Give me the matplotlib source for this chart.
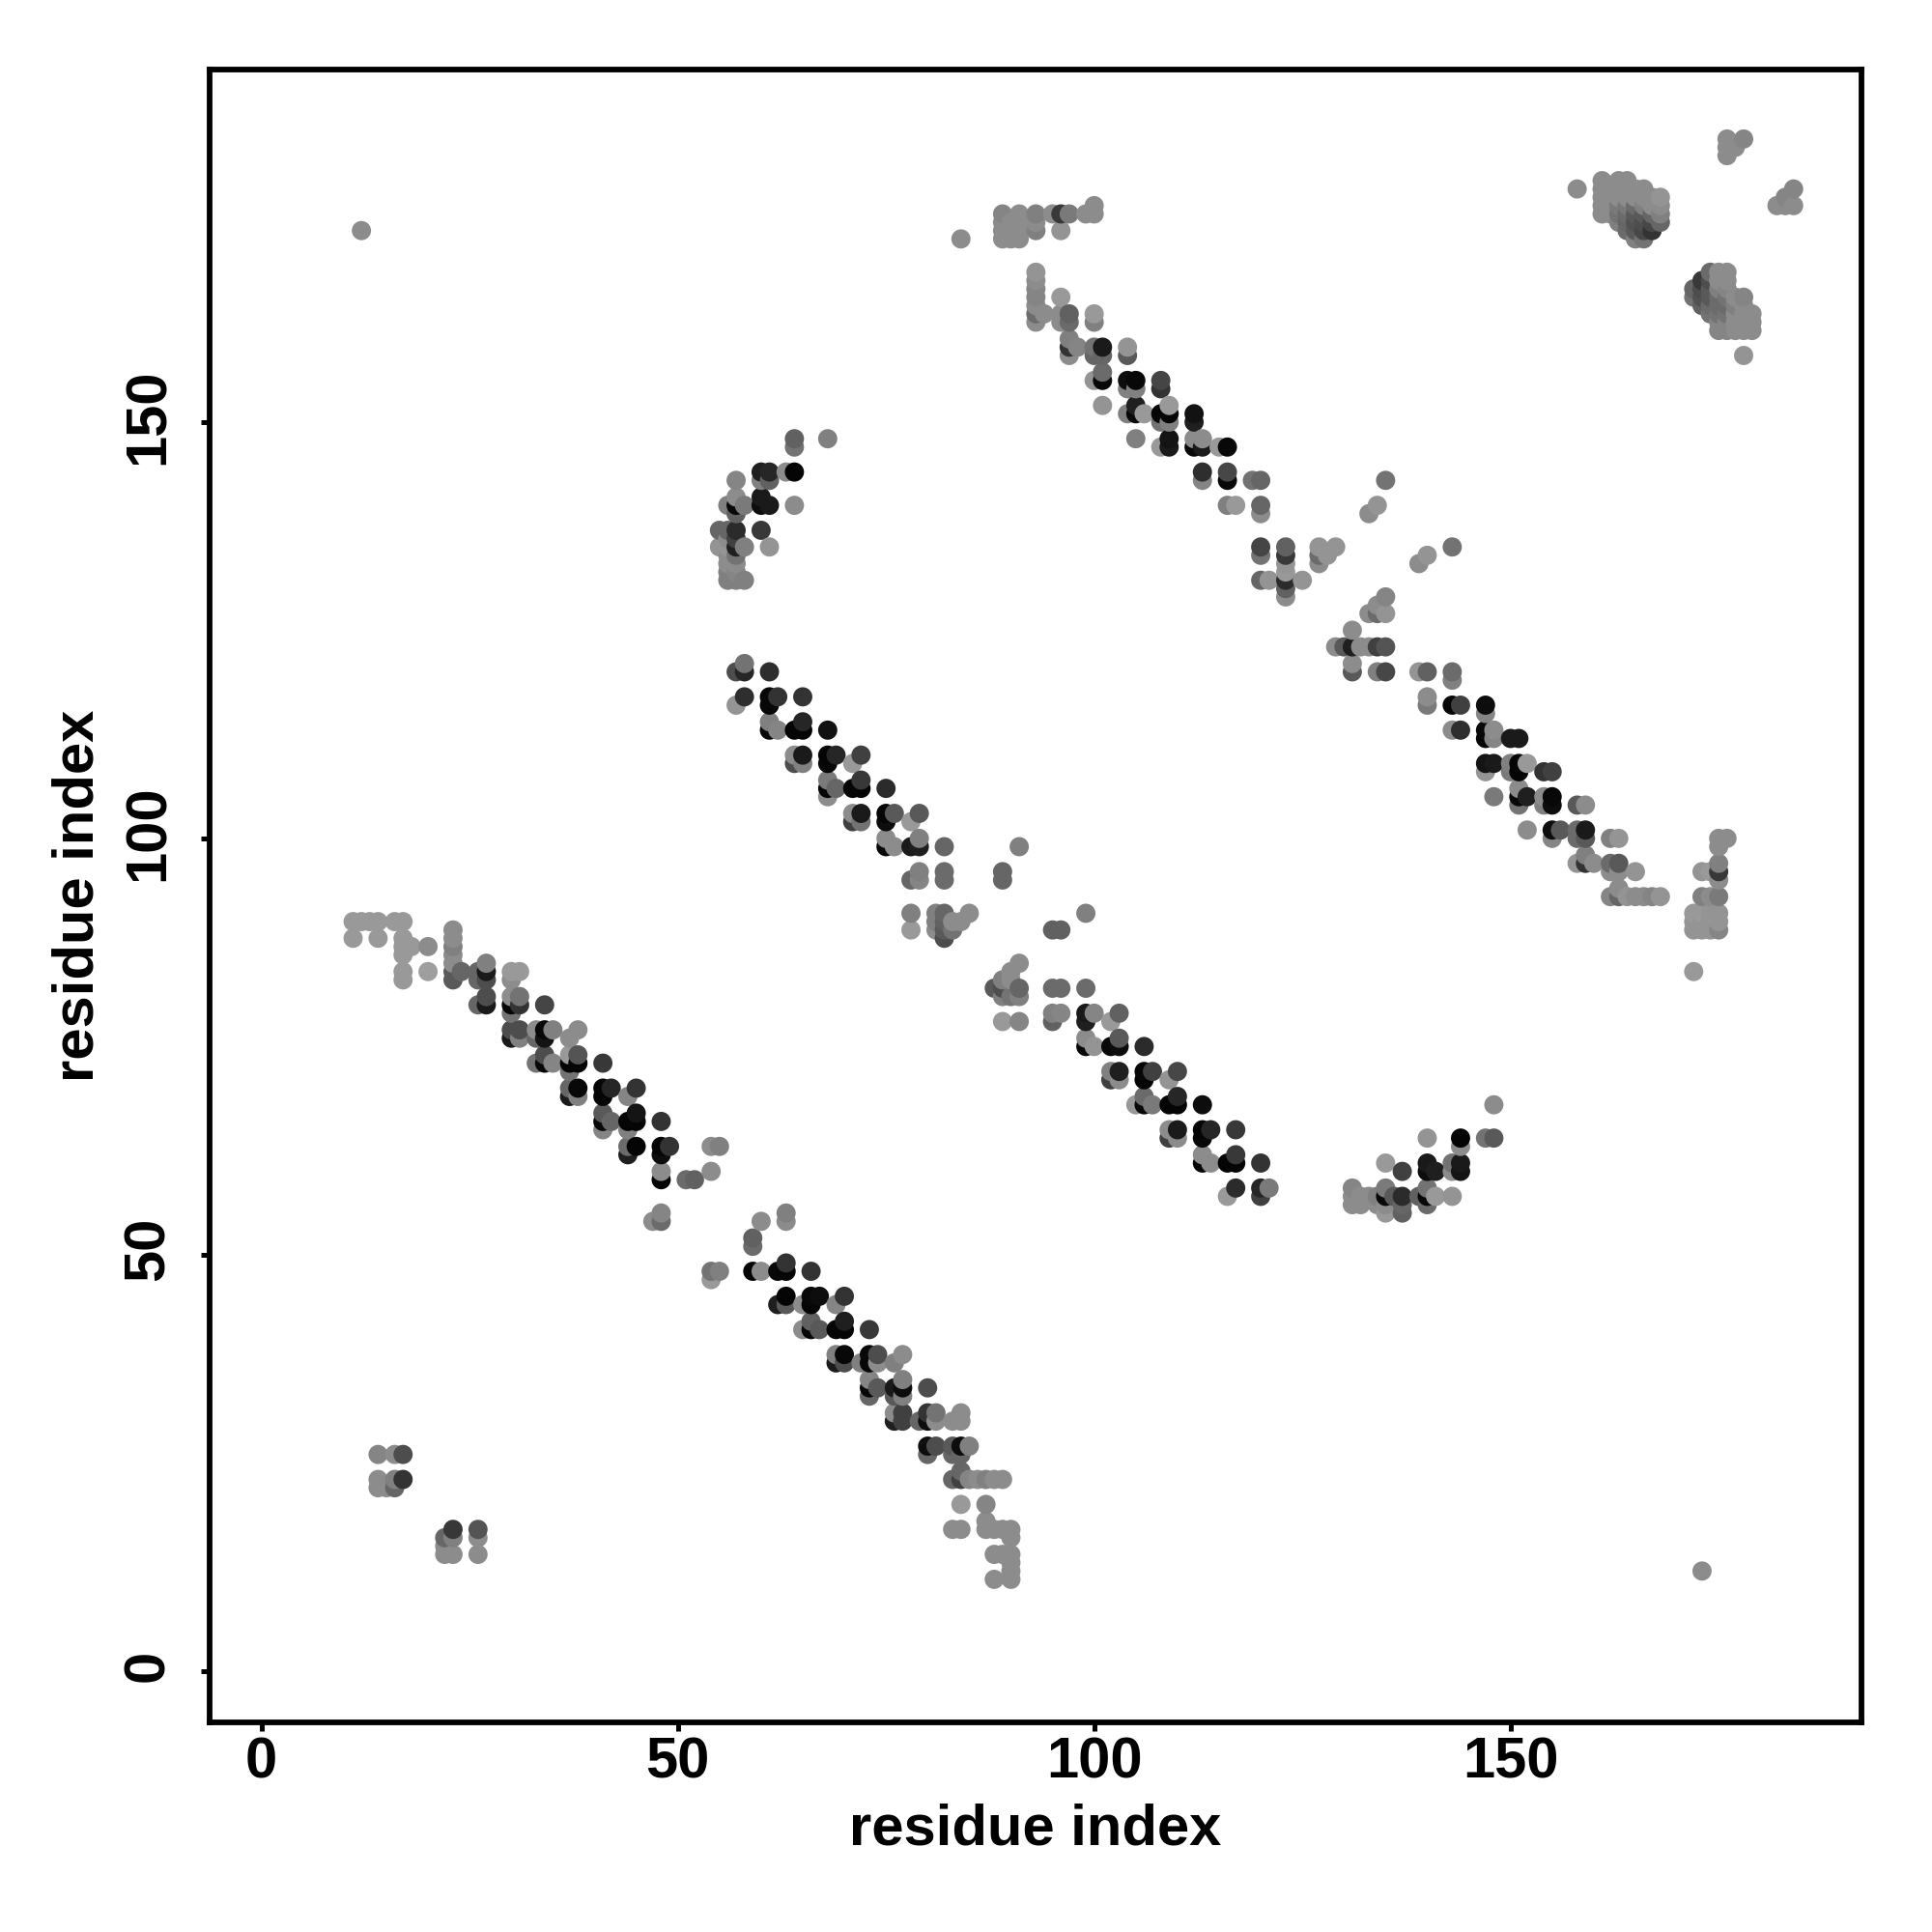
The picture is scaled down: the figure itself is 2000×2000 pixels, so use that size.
import matplotlib
matplotlib.use('Agg')
import matplotlib.pyplot as plt
from matplotlib.transforms import ScaledTranslation

plt.rcParams['font.family'] = ['Liberation Sans', 'DejaVu Sans']

# contacts as (residue x, residue y, grey level), grouped by band of the map
lone_points = [(12,173,.55),(84,172,.55),(173,12,.55),(158,178,.55),(178,158,.58),(172,84,.6)]

band_low_left = [
 (11,90,.6),(12,90,.6),(13,90,.6),(14,90,.6),(16,90,.6),(17,90,.6),(23,89,.55),
 (11,88,.6),(14,88,.6),(17,88,.6),(23,88,.55),(17,87,.6),(18,87,.6),(20,87,.55),(23,87,.5),
 (17,86,.6),(23,86,.55),(27,85,.5),(23,85,.55),
 (17,84,.6),(20,84,.62),(23,84,.35),(24,84,.4),(26,84,.4),(27,84,.1),(30,84,.6),(31,84,.6),
 (17,83,.6),(23,83,.35),(26,83,.4),(27,83,.3),(30,83,.55),
 (27,81,.3),(30,81,.55),(31,81,.45),
 (26,80,.4),(27,80,.1),(30,80,.03),(31,80,.2),(34,80,.27),(30,79,.45),
 (30,77,.3),(31,77,.3),(33,77,.55),(34,77,.03),(35,77,.5),(38,77,.55),
 (30,76,.1),(31,76,.5),(33,76,.4),(34,76,.08),(37,76,.55),
 (34,74,.3),(37,74,.6),(38,74,.33),
 (33,73,.45),(34,73,.03),(35,73,.52),(37,73,.02),(38,73,.02),(41,73,.22),(37,72,.45),
 (37,70,.4),(38,70,.03),(41,70,.02),(42,70,.15),(45,70,.2),
 (37,69,.1),(38,69,.5),(41,69,.02),(44,69,.52),
 (41,67,.35),(45,67,.08),
 (41,66,.03),(42,66,.4),(44,66,.02),(45,66,.02),(48,66,.2),(41,65,.52),(44,65,.5),
 (44,63,.42),(45,63,.02),(48,63,.02),(49,63,.2),(54,63,.55),(55,63,.5),
 (44,62,.12),(48,62,.05),(48,60,.55),(54,60,.55),
 (48,59,.02),(51,59,.42),(52,59,.38),(48,55,.52),(47,54,.55),(48,54,.42),
]

band_low_right = [
 (63,55,.5),(60,54,.55),(63,54,.55),(59,52,.38),(59,51,.42),
 (63,49,.2),(54,48,.45),(55,48,.5),(59,48,.02),(60,48,.55),(62,48,.03),(63,48,.02),(66,48,.2),(54,47,.6),
 (63,45,.02),(66,45,.03),(67,45,.05),(70,45,.2),
 (62,44,.12),(63,44,.35),(65,44,.55),(66,44,.02),(69,44,.52),
 (66,42,.38),(70,42,.12),
 (65,41,.55),(66,41,.03),(67,41,.35),(69,41,.02),(70,41,.02),(73,41,.22),
 (69,38,.5),(70,38,.03),(73,38,.03),(74,38,.3),(77,38,.55),
 (69,37,.1),(70,37,.3),(72,37,.5),(73,37,.03),(74,37,.55),(76,37,.5),
 (73,35,.52),(77,35,.5),
 (73,34,.03),(74,34,.35),(76,34,.1),(77,34,.05),(80,34,.3),
 (73,33,.4),(76,33,.35),(77,33,.5),
 (76,31,.55),(77,31,.25),(80,31,.2),(81,31,.45),(84,31,.55),
 (76,30,.12),(77,30,.25),(79,30,.4),(80,30,.05),(81,30,.55),(83,30,.55),(84,30,.55),
 (80,27,.05),(81,27,.3),(83,27,.35),(84,27,.05),(85,27,.5),
 (80,26,.4),(83,26,.4),(84,26,.4),(84,24,.4),
 (83,23,.4),(84,23,.25),(85,23,.52),(86,23,.55),(87,23,.5),(88,23,.55),(89,23,.55),
 (84,20,.6),(87,20,.52),(87,18,.55),
 (83,17,.55),(84,17,.55),(87,17,.55),(88,17,.55),(89,17,.55),(90,17,.55),(90,16,.55),
 (88,14,.55),(89,14,.55),(90,14,.55),(90,13,.55),(90,12,.55),(88,11,.55),(90,11,.55),
]

patch_bottom_left = [
 (14,26,.52),(16,26,.55),(17,26,.3),(14,23,.55),(16,23,.5),(17,23,.2),
 (14,22,.55),(15,22,.55),(16,22,.4),(23,17,.22),(26,17,.33),
 (22,16,.4),(23,16,.5),(26,16,.55),(22,15,.55),(22,14,.55),(23,14,.55),(26,14,.55),
]

band_mid_left = [
 (58,121,.45),(57,120,.3),(58,120,.15),(61,120,.18),
 (58,117,.18),(61,117,.03),(62,117,.2),(65,117,.2),(57,116,.58),(61,116,.03),
 (61,114,.5),(65,114,.15),(61,113,.03),(62,113,.52),(64,113,.02),(65,113,.02),(68,113,.07),
 (64,110,.55),(65,110,.1),(68,110,.02),(69,110,.15),(72,110,.25),
 (64,109,.3),(65,109,.5),(68,109,.03),(71,109,.6),
 (68,107,.48),(72,107,.22),(68,106,.02),(69,106,.4),(71,106,.02),(72,106,.02),(75,106,.17),(68,105,.55),
 (71,103,.55),(72,103,.1),(75,103,.02),(76,103,.35),(79,103,.35),
 (71,102,.25),(72,102,.45),(75,102,.05),(78,102,.6),
 (75,100,.55),(79,100,.5),(75,99,.03),(76,99,.55),(78,99,.1),(79,99,.12),(82,99,.4),(91,99,.5),
 (79,96,.5),(82,96,.42),(89,96,.4),(78,95,.4),(79,95,.52),(82,95,.42),(89,95,.4),
 (78,91,.5),(81,91,.5),(82,91,.4),(85,91,.55),(99,91,.5),
 (81,90,.5),(82,90,.38),(83,90,.55),(84,90,.55),
 (78,89,.6),(81,89,.55),(82,89,.35),(83,89,.45),(95,89,.38),(96,89,.38),(82,88,.3),
]

band_mid_right = [
 (91,85,.55),(90,84,.55),(89,83,.5),(90,83,.55),
 (88,82,.35),(89,82,.3),(91,82,.4),(95,82,.42),(96,82,.42),(99,82,.42),
 (89,81,.5),(90,81,.45),(91,81,.5),
 (95,79,.5),(96,79,.52),(99,79,.1),(100,79,.52),(103,79,.38),
 (89,78,.6),(91,78,.52),(95,78,.38),(99,78,.12),(102,78,.6),
 (99,76,.55),(103,76,.35),(99,75,.03),(100,75,.58),(102,75,.03),(103,75,.05),(106,75,.17),
 (102,72,.5),(103,72,.12),(106,72,.03),(107,72,.25),(110,72,.28),
 (102,71,.25),(103,71,.55),(106,71,.02),(109,71,.58),
 (106,69,.42),(110,69,.15),(105,68,.6),(106,68,.03),(107,68,.48),(109,68,.02),(110,68,.02),(113,68,.05),
 (109,65,.55),(110,65,.1),(113,65,.02),(114,65,.15),(117,65,.22),
 (109,64,.25),(110,64,.55),(113,64,.03),
 (113,62,.55),(117,62,.22),(113,61,.03),(114,61,.55),(116,61,.02),(117,61,.02),(120,61,.2),
 (117,58,.17),(120,58,.15),(121,58,.48),(116,57,.6),(120,57,.25),
]

arc_lower = [
 (148,68,.55),(140,64,.58),(144,64,.02),(147,64,.45),(148,64,.35),(144,63,.55),
 (135,61,.6),(140,61,.1),(143,61,.45),(144,61,.1),
 (137,60,.25),(140,60,.05),(141,60,.12),(143,60,.55),(144,60,.08),
 (131,58,.52),(135,58,.48),(140,58,.45),
 (131,57,.55),(132,57,.55),(133,57,.55),(134,57,.5),(135,57,.03),(136,57,.35),(137,57,.17),
 (139,57,.38),(140,57,.03),(141,57,.6),(143,57,.58),
 (131,56,.55),(132,56,.55),(134,56,.55),(135,56,.55),(137,56,.4),(140,56,.42),(135,55,.6),(137,55,.38),
]

arc_upper = [
 (64,148,.38),(68,148,.5),(64,147,.45),
 (60,144,.12),(61,144,.15),(63,144,.55),(64,144,.02),(57,143,.52),(60,143,.5),(61,143,.38),
 (57,141,.55),(60,141,.1),(56,140,.5),(57,140,.03),(58,140,.48),(60,140,.05),(61,140,.1),(64,140,.55),
 (57,139,.38),(55,137,.4),(56,137,.4),(57,137,.17),(60,137,.22),(56,136,.55),(57,136,.25),
 (55,135,.58),(56,135,.58),(57,135,.12),(58,135,.5),(61,135,.58),
 (56,134,.55),(57,134,.45),(56,133,.55),(57,133,.55),(56,132,.5),(57,132,.52),
 (56,131,.5),(57,131,.5),(58,131,.5),
]

band_top_left = [
 (100,176,.55),(89,175,.52),(91,175,.55),(93,175,.5),(95,175,.55),(96,175,.22),(97,175,.48),(99,175,.55),(100,175,.55),
 (89,174,.55),(90,174,.55),(91,174,.55),(93,174,.55),(89,173,.55),(90,173,.55),(91,173,.55),(93,173,.5),(96,173,.58),
 (89,172,.55),(90,172,.55),(91,172,.55),
 (93,168,.58),(93,167,.55),(93,166,.52),(93,165,.52),(93,164,.55),(93,163,.42),(93,162,.55),
 (94,163,.55),(96,165,.6),(96,163,.55),(96,162,.55),(97,163,.38),(97,162,.42),(100,163,.6),(100,162,.5),
 (97,160,.5),(97,159,.2),(98,159,.52),(97,158,.55),(100,159,.45),(101,159,.1),(104,159,.58),(100,158,.4),(101,158,.4),(104,158,.35),
 (101,156,.42),(100,155,.58),(101,155,.03),(104,155,.05),(105,155,.03),(108,155,.27),
 (104,154,.5),(105,154,.5),(108,154,.2),
 (101,152,.58),(105,152,.12),(109,152,.6),
 (104,151,.5),(105,151,.03),(106,151,.6),(108,151,.02),(109,151,.02),(112,151,.07),
 (108,150,.45),(109,150,.5),(112,150,.12),
 (105,148,.5),(109,148,.08),(112,148,.55),(113,148,.55),
 (108,147,.6),(109,147,.1),(112,147,.03),(113,147,.1),(115,147,.6),(116,147,.03),
 (113,144,.18),(116,144,.28),(113,143,.52),(116,143,.03),(119,143,.45),(120,143,.4),
 (116,140,.5),(117,140,.6),(120,140,.4),(120,139,.55),
 (120,135,.27),(123,135,.38),(127,135,.58),(129,135,.58),(120,134,.45),(123,134,.22),(127,134,.42),(128,134,.58),
 (123,133,.58),(127,133,.55),(123,132,.6),(120,131,.4),(121,131,.58),(123,131,.17),(125,131,.58),(123,130,.38),(123,129,.55),
 (135,143,.45),(134,140,.58),(133,139,.55),(143,135,.45),(140,134,.58),(139,133,.55),
]

band_top_right = [
 (135,129,.52),(134,128,.55),(133,127,.55),(134,127,.42),(135,127,.58),(131,125,.55),
 (129,123,.55),(130,123,.35),(131,123,.12),(132,123,.55),(133,123,.55),(134,123,.25),(135,123,.33),
 (131,121,.55),(131,120,.35),(134,120,.5),(135,120,.28),(139,120,.58),(140,120,.38),(143,120,.42),(143,119,.5),
 (140,117,.55),(140,116,.48),(143,116,.02),(144,116,.25),(147,116,.05),(147,115,.52),
 (143,113,.55),(144,113,.18),(147,113,.03),(148,113,.55),(147,112,.02),(148,112,.52),(150,112,.1),(151,112,.1),
 (147,109,.08),(148,109,.1),(150,109,.5),(151,109,.02),(152,109,.6),
 (147,108,.58),(150,108,.48),(151,108,.02),(154,108,.2),(155,108,.25),
 (151,106,.55),(148,105,.48),(151,105,.03),(152,105,.12),(154,105,.55),(155,105,.03),
 (151,104,.45),(154,104,.5),(155,104,.05),(158,104,.35),(159,104,.55),
 (152,101,.55),(155,101,.05),(156,101,.35),(158,101,.42),(159,101,.1),
 (155,100,.52),(158,100,.42),(159,100,.35),(162,100,.5),(163,100,.58),
 (159,98,.5),(158,97,.58),(159,97,.2),(160,97,.55),(162,97,.42),(163,97,.35),
 (162,96,.55),(163,96,.55),(165,96,.58),(163,94,.55),
 (162,93,.52),(163,93,.4),(164,93,.58),(165,93,.55),(166,93,.55),(167,93,.52),(168,93,.58),
]

column_right = [
 (175,100,.55),(176,100,.55),(175,99,.55),(175,97,.5),(173,96,.58),(174,96,.6),(175,96,.22),(175,95,.55),
 (173,93,.5),(174,93,.55),(175,93,.48),(172,91,.6),(173,91,.6),(174,91,.58),(175,91,.58),
 (172,90,.58),(173,90,.58),(174,90,.58),(175,90,.58),(172,89,.58),(173,89,.58),(174,89,.58),(175,89,.52),
]

cluster_upper = [
 (161,179,.55),(161,178,.55),(161,177,.55),(161,176,.55),(161,175,.55),
 (162,178,.55),(162,177,.55),(162,176,.55),(162,175,.55),
 (163,179,.55),(163,178,.55),(163,177,.55),(163,176,.48),(163,175,.45),(163,174,.5),
 (164,179,.55),(164,178,.55),(164,177,.55),(164,176,.47),(164,175,.42),(164,174,.4),(164,173,.42),
 (165,178,.55),(165,177,.55),(165,176,.42),(165,175,.35),(165,174,.32),(165,173,.35),(165,172,.5),
 (166,178,.55),(166,177,.55),(166,176,.5),(166,175,.35),(166,174,.3),(166,173,.28),(166,172,.45),
 (167,177,.55),(167,176,.55),(167,175,.4),(167,174,.28),(167,173,.2),
 (168,177,.58),(168,176,.55),(168,175,.5),(168,174,.4),
]

cluster_lower = [
 (172,166,.4),(172,165,.45),(173,167,.22),(173,166,.3),(173,165,.32),(173,164,.38),
 (174,168,.42),(174,167,.3),(174,166,.35),(174,165,.35),(174,164,.42),(174,163,.45),
 (175,168,.55),(175,167,.55),(175,166,.5),(175,165,.42),(175,164,.42),(175,163,.45),(175,162,.52),(175,161,.52),
 (176,168,.55),(176,167,.55),(176,166,.52),(176,165,.45),(176,164,.42),(176,163,.45),(176,162,.52),(176,161,.52),
 (177,165,.55),(177,164,.5),(177,163,.55),(177,162,.55),(177,161,.55),
 (178,165,.52),(178,164,.55),(178,163,.55),(178,162,.55),(178,161,.55),
 (179,163,.55),(179,162,.55),(179,161,.55),
]

corner_bits = [
 (176,184,.55),(178,184,.52),(177,183,.55),(176,183,.55),(176,182,.55),
 (184,178,.52),(183,177,.52),(182,176,.55),(183,176,.55),(184,176,.55),
]

ticks = [0, 50, 100, 150]

contacts = (lone_points + band_low_left + band_low_right + patch_bottom_left + band_mid_left
            + band_mid_right + arc_lower + arc_upper + band_top_left + band_top_right
            + column_right + cluster_upper + cluster_lower + corner_bits)
# the original draws column by column, so later residues sit on top
contacts = sorted(contacts, key=lambda p: (p[0], p[1]))

fig = plt.figure(figsize=(20, 20), dpi=100)
ax = fig.add_axes([217/2000, 1-1783/2000, (1927-217)/2000, (1783-71.5)/2000])

ax.scatter([p[0] for p in contacts], [p[1] for p in contacts],
           c=[str(p[2]) for p in contacts], s=205, linewidths=0, zorder=2)

ax.set_xlim(-6.23, 192.15)
ax.set_ylim(-6.18, 192.4)
ax.set_xticks(ticks)
ax.set_yticks(ticks)
ax.tick_params(axis='both', length=6.5, width=3.6, labelsize=43)
ax.tick_params(axis='x', pad=4)
ax.tick_params(axis='y', pad=19)
for lab in ax.get_xticklabels():
    lab.set_fontweight('bold')
nudge_up = ScaledTranslation(0, 4/72, fig.dpi_scale_trans)
for lab in ax.get_yticklabels():
    lab.set_fontweight('bold')
    lab.set_rotation(90)
    lab.set_va('center')
    lab.set_transform(lab.get_transform() + nudge_up)
for s in ax.spines.values():
    s.set_linewidth(4.2)

ax.set_xlabel('residue index', fontsize=43, fontweight='bold', labelpad=10)
ax.set_ylabel('residue index', fontsize=43, fontweight='bold', labelpad=13)

fig.savefig('out.png', dpi=100, facecolor='white')
